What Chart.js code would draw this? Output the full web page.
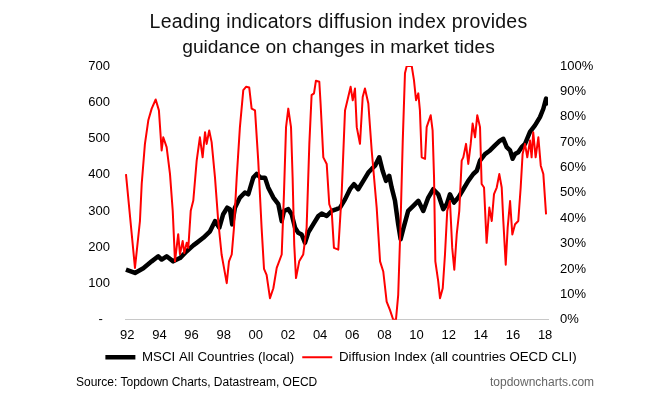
<!DOCTYPE html>
<html><head><meta charset="utf-8">
<script src="https://cdn.jsdelivr.net/npm/chart.js@4/dist/chart.umd.min.js"></script>
<style>
html,body{margin:0;padding:0;background:#fff;}
#wrap{position:relative;width:668px;height:399px;overflow:hidden;font-family:"Liberation Sans",Arial,sans-serif;background:#fff;}
#title{position:absolute;left:0;top:9px;width:677px;text-align:center;line-height:24px;color:#111;}
#title .l1{font-size:19.5px;letter-spacing:0.25px;}
#title .l2{font-size:19.2px;}
#src{position:absolute;left:76px;top:375px;font-size:12px;line-height:14px;color:#000;white-space:nowrap;}
#web{position:absolute;left:490px;top:375px;font-size:12px;line-height:14px;color:#666;white-space:nowrap;}
canvas{position:absolute;left:0;top:0;}
</style></head>
<body>
<div id="wrap">
<canvas id="c" width="668" height="399"></canvas>
<div id="title"><span class="l1">Leading indicators diffusion index provides</span><br><span class="l2">guidance on changes in market tides</span></div>
<div id="src">Source: Topdown Charts, Datastream, OECD</div>
<div id="web">topdowncharts.com</div>
</div>
<script>
const seriesNames = ["MSCI All Countries (local)", "Diffusion Index (all countries OECD CLI)"];
const xTickYears = [1992,1994,1996,1998,2000,2002,2004,2006,2008,2010,2012,2014,2016,2018];

const msciYears = [
1991.92,1992.48,1993.0,1993.52,1993.93,1994.14,1994.45,1994.86,1995.28,1995.7,
1996.11,1996.32,1996.73,1997.15,1997.46,1997.73,1997.97,1998.22,1998.39,1998.53,
1998.7,1999.01,1999.32,1999.53,1999.84,2000.05,2000.3,2000.57,2000.77,2001.09,
2001.4,2001.61,2001.75,2002.02,2002.23,2002.44,2002.64,2002.85,2003.06,2003.26,
2003.57,2003.89,2004.1,2004.41,2004.72,2005.03,2005.24,2005.55,2005.86,2006.11,
2006.37,2006.69,2007.0,2007.21,2007.42,2007.68,2007.89,2008.1,2008.3,2008.45,
2008.66,2008.86,2009.01,2009.17,2009.48,2009.8,2010.11,2010.42,2010.73,2011.04,
2011.35,2011.66,2011.88,2012.08,2012.33,2012.6,2012.91,2013.22,2013.53,2013.75,
2013.95,2014.26,2014.57,2014.88,2015.19,2015.4,2015.61,2015.82,2015.98,2016.13,
2016.33,2016.54,2016.75,2017.06,2017.37,2017.68,2017.89,2018.06,2018.2];
const msciValues = [
138,129,142,161,175,166,175,161,170,189,
205,212,226,244,272,254,291,309,305,263,
309,337,351,346,392,402,392,392,365,337,
319,272,300,305,291,254,240,235,212,240,
263,286,293,286,300,305,309,332,360,374,
360,383,406,416,425,448,411,383,397,365,
328,263,222,250,300,314,328,300,337,360,
346,305,319,346,323,337,360,383,402,411,
439,457,467,481,494,499,476,467,444,457,
462,476,485,518,536,559,582,610,592];

const diffYears = [
1991.92,1992.48,1992.79,1992.9,1993.1,1993.31,1993.52,1993.77,1993.97,1994.14,
1994.24,1994.45,1994.66,1994.83,1994.97,1995.17,1995.28,1995.45,1995.55,1995.7,
1995.8,1995.95,1996.11,1996.32,1996.52,1996.69,1996.84,1996.94,1997.1,1997.25,
1997.46,1997.66,1997.87,1998.02,1998.19,1998.33,1998.5,1998.64,1998.81,1999.01,
1999.22,1999.39,1999.59,1999.74,1999.95,2000.15,2000.36,2000.51,2000.67,2000.88,
2001.09,2001.3,2001.61,2001.75,2001.88,2002.02,2002.19,2002.29,2002.39,2002.5,
2002.7,2002.95,2003.16,2003.33,2003.47,2003.62,2003.74,2003.95,2004.03,2004.2,
2004.41,2004.57,2004.72,2004.86,2005.13,2005.34,2005.55,2005.75,2005.9,2006.03,
2006.17,2006.28,2006.48,2006.65,2006.79,2007.0,2007.21,2007.52,2007.73,2007.93,
2008.14,2008.35,2008.55,2008.72,2008.86,2009.01,2009.14,2009.28,2009.39,2009.7,
2009.84,2009.97,2010.11,2010.21,2010.32,2010.53,2010.63,2010.88,2011.0,2011.09,
2011.17,2011.35,2011.46,2011.63,2011.77,2011.91,2012.08,2012.22,2012.35,2012.5,
2012.66,2012.81,2012.91,2013.08,2013.22,2013.37,2013.49,2013.64,2013.78,2013.95,
2014.05,2014.2,2014.36,2014.53,2014.68,2014.82,2014.99,2015.15,2015.3,2015.4,
2015.55,2015.67,2015.82,2015.96,2016.13,2016.33,2016.48,2016.6,2016.75,2016.89,
2017.06,2017.16,2017.26,2017.41,2017.58,2017.73,2017.89,2018.06];
const diffValues = [
57.4,20.4,38.9,53.6,69.3,78.6,83.2,86.8,82.5,66.7,
71.9,68,57.4,42.9,23,33.7,25.8,31,26.3,30.3,
28.3,42.9,47,62.7,71.9,64,73.9,69.3,74.6,70,
56,38.9,25.7,20.4,14.4,23,25.7,36.2,56,75.9,
90.5,91.8,91.5,83.2,82.5,62.7,36.2,20,17.7,8.5,
12.4,20.4,25.7,49.5,75.9,83.2,75.9,56,29.6,16.4,
23,25.7,36.2,69.3,88.5,89.2,94.2,93.8,85.2,64,
61.4,45.5,42.9,28.3,27.6,49.5,82.5,87.8,91.8,86.5,
91.1,75.9,69.3,87.8,91.1,85.2,66.7,44.2,23,19,
7.1,3.8,0,0,9.8,38.9,70,97.1,100,100,
94.4,86.5,89.2,82.5,64,63.4,75.9,80.6,74.6,56,
23,15.1,8.5,12.4,25.7,42.9,46.8,28.3,19.7,33.6,
42.9,62.7,64,69.3,61.4,69.3,77.3,71.9,80.6,75.9,
53.5,52.1,30.3,44.2,38.9,49.5,52.1,57.4,52.1,38.9,
21.7,36.2,46.8,33.6,37.6,38.9,52.1,65.3,69.3,64,
70.6,64,73.9,64,71.9,60.7,57.4,41.5];

const tickFont = {family: "'Liberation Sans', Arial, sans-serif", size: 13};
const legendFont = {family: "'Liberation Sans', Arial, sans-serif", size: 13.3};

new Chart(document.getElementById('c'), {
  type: 'line',
  data: {
    datasets: [
      {
        label: seriesNames[0],
        data: msciYears.map((x, i) => ({x: x, y: msciValues[i]})),
        borderColor: '#000000',
        backgroundColor: '#000000',
        borderWidth: 4.5,
        pointRadius: 0,
        borderJoinStyle: 'round',
        yAxisID: 'y',
        order: 1
      },
      {
        label: seriesNames[1],
        data: diffYears.map((x, i) => ({x: x, y: diffValues[i]})),
        borderColor: '#ff0000',
        backgroundColor: '#ff0000',
        borderWidth: 2,
        pointRadius: 0,
        borderJoinStyle: 'round',
        yAxisID: 'y1',
        order: 0
      }
    ]
  },
  options: {
    responsive: false,
    animation: false,
    events: [],
    layout: {padding: {top: 66, left: 14, right: 0, bottom: 25}},
    plugins: {
      title: {display: false},
      tooltip: {enabled: false},
      legend: {
        display: true,
        position: 'bottom',
        labels: {
          usePointStyle: true,
          pointStyle: 'line',
          pointStyleWidth: 30,
          padding: 8,
          color: '#000',
          font: legendFont,
          sort: (a, b) => a.datasetIndex - b.datasetIndex
        }
      }
    },
    scales: {
      x: {
        type: 'linear',
        min: 1991.86,
        max: 2018.18,
        grid: {display: false},
        border: {display: true, color: '#c8c8c8', width: 1},
        afterBuildTicks: (s) => { s.ticks = xTickYears.map(v => ({value: v})); },
        afterFit: (s) => { s.height = 23; },
        ticks: {
          color: '#000', font: tickFont, padding: 0, maxRotation: 0, autoSkip: false,
          callback: (v) => String(v % 100).padStart(2, '0')
        }
      },
      y: {
        position: 'left',
        min: 0, max: 700,
        grid: {display: false},
        border: {display: false},
        afterFit: (s) => { s.width = 111; },
        ticks: {
          stepSize: 100, color: '#000', font: tickFont, padding: 7,
          callback: (v) => v === 0 ? '-  ' : String(v)
        }
      },
      y1: {
        position: 'right',
        min: 0, max: 100,
        grid: {display: false},
        border: {display: false},
        afterFit: (s) => { s.width = 120; },
        ticks: {
          stepSize: 10, color: '#000', font: tickFont, padding: 4,
          callback: (v) => v + '%'
        }
      }
    }
  }
});
</script>
</body></html>
